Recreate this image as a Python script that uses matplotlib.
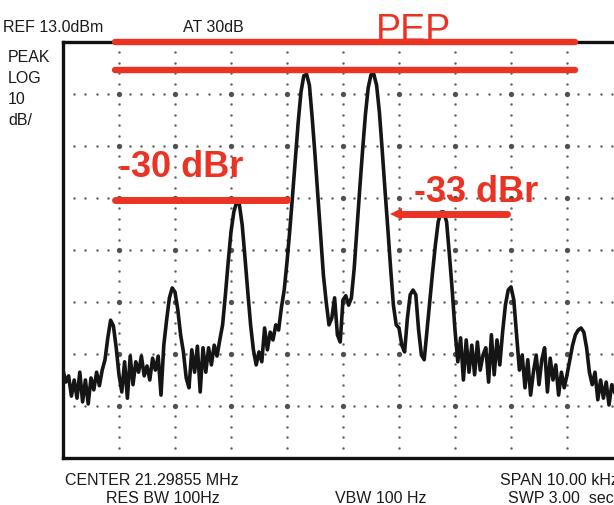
import matplotlib
matplotlib.use("Agg")
import matplotlib.pyplot as plt
import numpy as np

# spectrum analyzer settings
ref_level = 13.0      # dBm, top of screen
db_per_div = 10
n_ydiv = 8
span_khz = 10.0

# trace: one point every 0.05 kHz from -5 kHz
freq_start = -5.0
freq_step = 0.05
level_dbm = [
    -50.1, -52.4, -51.2, -55.1, -52.0, -55.5, -50.5, -56.2, -52.0, -56.6,
    -51.6, -53.9, -50.5, -53.1, -50.1, -48.1, -43.9, -40.5, -41.6, -45.8,
    -51.0, -54.3, -48.5, -55.5, -47.4, -52.9, -48.5, -50.5, -47.4, -51.2,
    -49.3, -52.0, -47.8, -50.1, -47.4, -54.9, -45.3, -40.5, -36.2, -34.3,
    -35.1, -38.5, -43.3, -46.6, -51.6, -53.5, -46.2, -50.5, -45.5, -54.3,
    -45.8, -50.5, -45.8, -49.1, -45.3, -47.4, -44.3, -41.4, -35.6, -29.3,
    -23.5, -19.7, -17.8, -18.3, -22.2, -28.5, -35.1, -41.4, -46.2, -49.1,
    -46.6, -48.5, -42.0, -46.2, -42.8, -44.3, -41.4, -42.4, -38.1, -34.7,
    -29.3, -23.2, -16.4, -9.3, -2.4, 3.4, 6.5, 6.8, 4.7, -1.6,
    -8.7, -16.4, -24.1, -31.8, -37.0, -41.4, -40.1, -36.2, -43.3, -44.7,
    -36.6, -35.8, -37.6, -36.2, -30.5, -22.8, -15.1, -7.8, -1.0, 4.2,
    6.7, 6.8, 4.7, -0.5, -7.8, -15.5, -22.8, -30.5, -37.6, -41.4,
    -42.0, -45.3, -46.6, -40.1, -35.6, -34.7, -35.6, -42.4, -47.2, -48.1,
    -42.4, -36.6, -31.2, -26.0, -21.6, -19.7, -19.7, -21.6, -27.9, -34.7,
    -42.4, -48.5, -43.9, -52.0, -44.3, -50.5, -45.3, -51.0, -44.7, -50.1,
    -47.2, -45.8, -52.4, -43.3, -51.0, -44.3, -49.1, -42.8, -37.6, -34.7,
    -34.1, -36.6, -43.3, -50.1, -47.2, -53.5, -48.1, -54.9, -50.5, -47.2,
    -52.9, -48.1, -45.8, -54.3, -47.8, -52.0, -49.1, -54.9, -50.5, -53.5,
    -51.0, -48.1, -45.3, -43.3, -42.4, -42.0, -42.8, -45.8, -50.5, -52.9,
    -50.5, -55.8, -52.0, -55.5, -52.4, -56.8, -52.9, -54.3,
]
freq_khz = freq_start + freq_step * np.arange(len(level_dbm))

red = '#ec3323'

W, H = 614, 505
fig = plt.figure(figsize=(W / 100, H / 100), dpi=100)
# screen box: left edge at 63 px, right edge runs off the picture
ax = fig.add_axes([63 / W, (H - 458) / H, 560 / W, 416 / H])
bottom_level = ref_level - n_ydiv * db_per_div
ax.set_xlim(-span_khz / 2, span_khz / 2)
ax.set_ylim(bottom_level, ref_level)
ax.set_xticks([])
ax.set_yticks([])
for s in ax.spines.values():
    s.set_linewidth(2.4)
    s.set_color('#111111')

##### dotted graticule #####
major_x = np.arange(-5, 5.01, 1.0)
major_y = np.arange(bottom_level, ref_level + 0.01, db_per_div)
minor_x = np.arange(-5, 5.01, 0.2)
minor_y = np.arange(bottom_level, ref_level + 0.01, 2.0)
for mx in major_x[1:-1]:
    ax.plot(np.full(len(minor_y), mx), minor_y, ls='none', marker='o',
            ms=1.8, mew=0, color='#666666', zorder=1)
for my in major_y[1:-1]:
    ax.plot(minor_x, np.full(len(minor_x), my), ls='none', marker='o',
            ms=1.8, mew=0, color='#666666', zorder=1)
gx, gy = np.meshgrid(major_x[1:-1], major_y[1:-1])
ax.plot(gx.ravel(), gy.ravel(), ls='none', marker='o', ms=3.8, mew=0,
        color='#505050', zorder=1)

##### the trace #####
ax.plot(freq_khz, level_dbm, color='#151515', lw=2.6,
        solid_joinstyle='round', zorder=3)

##### red markings #####
pep_lines = [13.0, 7.6]
for y in pep_lines:
    ax.plot([-4.07, 4.14], [y, y], color=red, lw=4.6,
            solid_capstyle='round', zorder=5, clip_on=False)
ax.plot([-4.07, -1.0], [-17.4, -17.4], color=red, lw=5.0,
        solid_capstyle='round', zorder=5)
ax.plot([1.05, 2.93], [-20.1, -20.1], color=red, lw=5.0,
        solid_capstyle='round', zorder=5)
ax.plot([0.95], [-20.1], marker='<', ms=8, color=red, mew=0, zorder=5)


def ptext(x, y, s, **kw):
    fig.text(x / W, 1 - y / H, s, va='baseline', ha='left', **kw)


ptext(376, 41, 'PEP', color=red, fontsize=27, family='Liberation Sans')
ptext(119, 177, '-30 dBr', color=red, fontsize=26, fontweight='bold',
      family='Liberation Sans')
ptext(414, 202, '-33 dBr', color=red, fontsize=26, fontweight='bold',
      family='Liberation Sans')

##### instrument annotations #####
lab = dict(color='#1a1a1a', fontsize=11.5, family='Liberation Sans')
ptext(3, 32, 'REF 13.0dBm', **lab)
ptext(183, 32, 'AT 30dB', **lab)
ptext(8, 62, 'PEAK', **lab)
ptext(8, 83, 'LOG', **lab)
ptext(8, 104, '10', **lab)
ptext(8, 125, 'dB/', **lab)
ptext(65, 485, 'CENTER 21.29855 MHz', **lab)
ptext(106, 503, 'RES BW 100Hz', **lab)
ptext(335, 503, 'VBW 100 Hz', **lab)
ptext(500, 485, 'SPAN 10.00 kHz', **lab)
ptext(508, 503, 'SWP 3.00  sec', **lab)

fig.savefig('out.png', dpi=100, facecolor='white')
